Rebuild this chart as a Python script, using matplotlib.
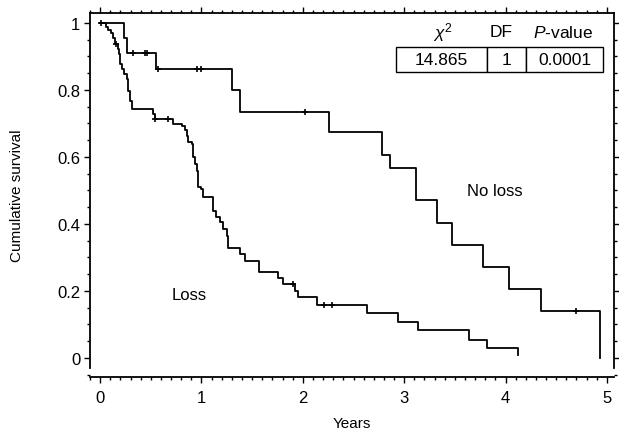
import matplotlib
matplotlib.use('Agg')
import matplotlib.pyplot as plt
from matplotlib.ticker import MultipleLocator, FuncFormatter

plt.rcParams['font.family'] = ['Liberation Sans', 'DejaVu Sans']
plt.rcParams['mathtext.fontset'] = 'custom'
plt.rcParams['mathtext.rm'] = 'Liberation Sans'
plt.rcParams['mathtext.it'] = 'Liberation Sans:italic'

# Kaplan-Meier steps
noloss_t = [0, 0.24, 0.263, 0.55, 1.30, 1.38, 2.26, 2.78, 2.86, 3.12, 3.32,
            3.47, 3.78, 4.03, 4.35, 4.93]
noloss_s = [1.0, 0.955, 0.91, 0.863, 0.80, 0.734, 0.674, 0.606, 0.567, 0.472,
            0.403, 0.337, 0.272, 0.206, 0.140, 0.0]
noloss_cens_t = [0.32, 0.44, 0.46, 0.57, 0.96, 1.0, 2.02, 4.70]
noloss_cens_s = [0.91, 0.91, 0.91, 0.863, 0.863, 0.863, 0.734, 0.140]

loss_t = [0, 0.06, 0.082, 0.108, 0.131, 0.148, 0.174, 0.187, 0.197, 0.22,
          0.24, 0.263, 0.279, 0.296, 0.312, 0.525, 0.542, 0.722, 0.805, 0.837,
          0.854, 0.87, 0.903, 0.919, 0.936, 0.952, 0.969, 1.0, 1.018, 1.117,
          1.143, 1.182, 1.215, 1.248, 1.265, 1.38, 1.43, 1.57, 1.757, 1.806,
          1.92, 1.95, 2.14, 2.63, 2.94, 3.14, 3.64, 3.82, 4.12]
loss_s = [1.0, 0.989, 0.979, 0.969, 0.955, 0.937, 0.922, 0.907, 0.878, 0.863,
          0.848, 0.833, 0.798, 0.768, 0.743, 0.728, 0.713, 0.699, 0.693, 0.679,
          0.664, 0.644, 0.639, 0.599, 0.579, 0.559, 0.51, 0.504, 0.48, 0.44,
          0.42, 0.405, 0.385, 0.365, 0.327, 0.31, 0.29, 0.258, 0.238, 0.221,
          0.201, 0.181, 0.158, 0.134, 0.108, 0.082, 0.055, 0.029, 0.01]
loss_cens_t = [0.01, 0.155, 0.54, 0.667, 1.905, 2.21, 2.29]
loss_cens_s = [1.0, 0.937, 0.713, 0.713, 0.221, 0.158, 0.158]

stat_head = [r'$\chi^2$', 'DF', r'$P$-value']
stat_vals = ['14.865', '1', '0.0001']

fig = plt.figure(figsize=(6.19, 4.35), dpi=100)
ax = fig.add_axes([0.1454, 0.131, 0.8465, 0.837])

ax.step(noloss_t, noloss_s, where='post', color='black', lw=1.3)
ax.step(loss_t, loss_s, where='post', color='black', lw=1.3)
ax.plot(noloss_cens_t, noloss_cens_s, '+', color='black', ms=4, mew=1.2)
ax.plot(loss_cens_t, loss_cens_s, '+', color='black', ms=4, mew=1.2)

ax.text(3.89, 0.50, 'No loss', fontsize=12, ha='center', va='center')
ax.text(0.88, 0.19, 'Loss', fontsize=12, ha='center', va='center')

ax.set_xlim(-0.1, 5.07)
ax.set_ylim(-0.057, 1.03)
ax.spines['left'].set_bounds(-0.03, 1.03)
ax.spines['right'].set_bounds(-0.03, 1.03)
for s in ax.spines.values():
    s.set_linewidth(1.3)

ax.xaxis.set_major_locator(MultipleLocator(1))
ax.xaxis.set_minor_locator(MultipleLocator(0.1))
ax.yaxis.set_major_locator(MultipleLocator(0.2))
ax.yaxis.set_minor_locator(MultipleLocator(0.05))
ax.yaxis.set_major_formatter(FuncFormatter(lambda v, p: '%g' % round(v, 2)))
ax.tick_params(which='both', direction='out', top=True, right=True,
               labeltop=False, labelright=False, width=1.0)
ax.tick_params(which='major', length=4, labelsize=12)
ax.tick_params(which='minor', length=2.5)
ax.tick_params(axis='x', which='major', pad=5)
ax.tick_params(axis='y', which='major', pad=3)

ax.set_xlabel('Years', fontsize=11, labelpad=8)
ax.set_ylabel('Cumulative survival', fontsize=11, labelpad=24)

# statistics box
tb = ax.table(cellText=[stat_vals], colWidths=[0.44, 0.19, 0.37],
              cellLoc='center', bbox=[0.584, 0.838, 0.395, 0.069])
tb.auto_set_font_size(False)
for c in tb.get_celld().values():
    c.set_linewidth(1.0)
    c.get_text().set_fontsize(12.5)
for x, h in zip([0.674, 0.784, 0.903], stat_head):
    ax.text(x, 0.948, h, transform=ax.transAxes, fontsize=12.5,
            ha='center', va='center')

fig.savefig('out.png', dpi=100)
